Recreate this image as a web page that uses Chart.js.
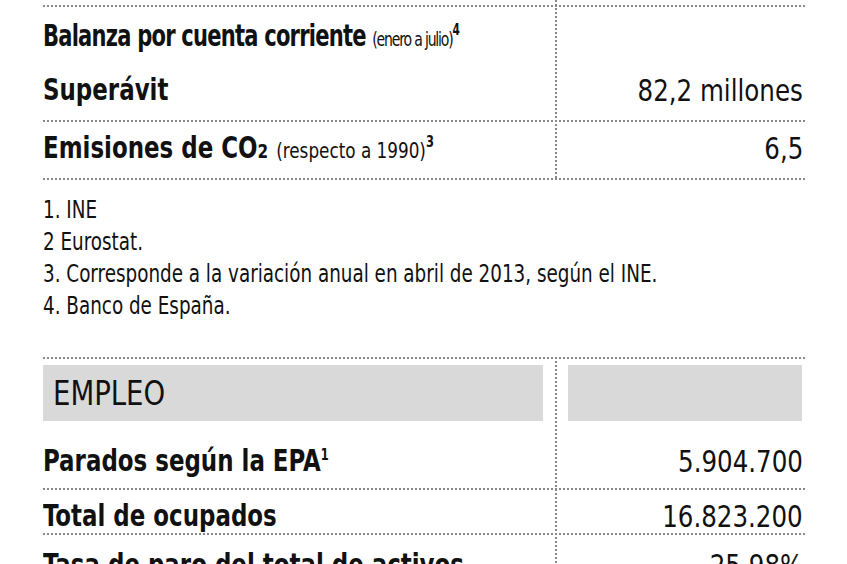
<!DOCTYPE html>
<html><head><meta charset="utf-8">
<script src="https://cdn.jsdelivr.net/npm/chart.js@4"></script>
<style>
body{margin:0;width:847px;height:564px;overflow:hidden;background:#fff;position:relative;font-family:"Liberation Sans Narrow","DejaVu Sans Condensed",sans-serif;color:#111}
.t{position:absolute;white-space:nowrap;transform-origin:left center}
.r{position:absolute;white-space:nowrap;transform-origin:right center;text-align:right}
.b{font-weight:bold;font-size:30px}
.hl{position:absolute;left:43px;width:762px;border-top:2px dotted #888}
.vl{position:absolute;left:555px;border-left:2px dotted #888}
.fn{position:absolute;left:43px;font-size:24px;transform:scaleX(.85);transform-origin:left center}
small{font-weight:normal;font-size:22px}
sup{font-size:15px}
#c{position:absolute;left:0;top:0;width:1px;height:1px;opacity:0}
</style></head><body>
<canvas id="c"></canvas>
<script>
const topLabels=["Balanza por cuenta corriente","Superávit","Emisiones de CO₂"];
const topValues=["","82,2 millones","6,5"];
const notes=["1. INE","2  Eurostat.","3. Corresponde a la variación anual en abril de 2013, según el INE.","4. Banco de España."];
const empLabels=["Parados según la EPA","Total de ocupados","Tasa de paro del total de activos"];
const empValues=["5.904.700","16.823.200","25,98%"];
const B=document.body;
function add(cls,html,css){const d=document.createElement('div');d.className=cls;d.innerHTML=html;Object.assign(d.style,css);B.appendChild(d);return d;}
[5,120,178,357,488,533].forEach(y=>add('hl','',{top:y+'px'}));
add('vl','',{top:'0px',height:'178px'});add('vl','',{top:'357px',height:'210px'});
add('t','',{left:'43px',top:'365px',width:'500px',height:'56px',background:'#d9d9d9'});
add('t','',{left:'568px',top:'365px',width:'234px',height:'56px',background:'#d9d9d9'});
add('t','EMPLEO',{left:'53px',top:'373px',fontSize:'34px',transform:'scaleX(.9)'});
const lbl=[topLabels[0]+' <small style="font-size:20px;letter-spacing:-1.5px">(enero a julio)</small><sup>4</sup>',topLabels[1],'Emisiones de CO<span style="font-size:20px">2</span> <small>(respecto a 1990)</small><sup>3</sup>'];
const ty=[18,72,130];
lbl.forEach((l,i)=>add('t b',l,{left:'43px',top:ty[i]+'px',transform:'scaleX('+(i==0?0.78:0.85)+')',letterSpacing:i==0?'-1px':'0'}));
topValues.forEach((v,i)=>{if(v)add('r b',v,{right:'44px',top:ty[i]+'px',fontWeight:'normal',fontSize:'31px',transform:'scaleX(.88)'})});
notes.forEach((n,i)=>add('fn',n,{top:(196+i*32)+'px'}));
const ey=[443,498,547];
const el=[empLabels[0]+'<sup>1</sup>',empLabels[1],empLabels[2]];
el.forEach((l,i)=>add('t b',l,{left:'43px',top:ey[i]+'px',transform:'scaleX(.85)'}));
empValues.forEach((v,i)=>add('r b',v,{right:'44px',top:ey[i]+'px',fontWeight:'normal',fontSize:'31px',transform:'scaleX(.88)'}));
new Chart(document.getElementById('c'),{type:'bar',data:{labels:[],datasets:[]},options:{animation:false,responsive:false,plugins:{legend:{display:false}},scales:{x:{display:false},y:{display:false}}}});
</script></body></html>
